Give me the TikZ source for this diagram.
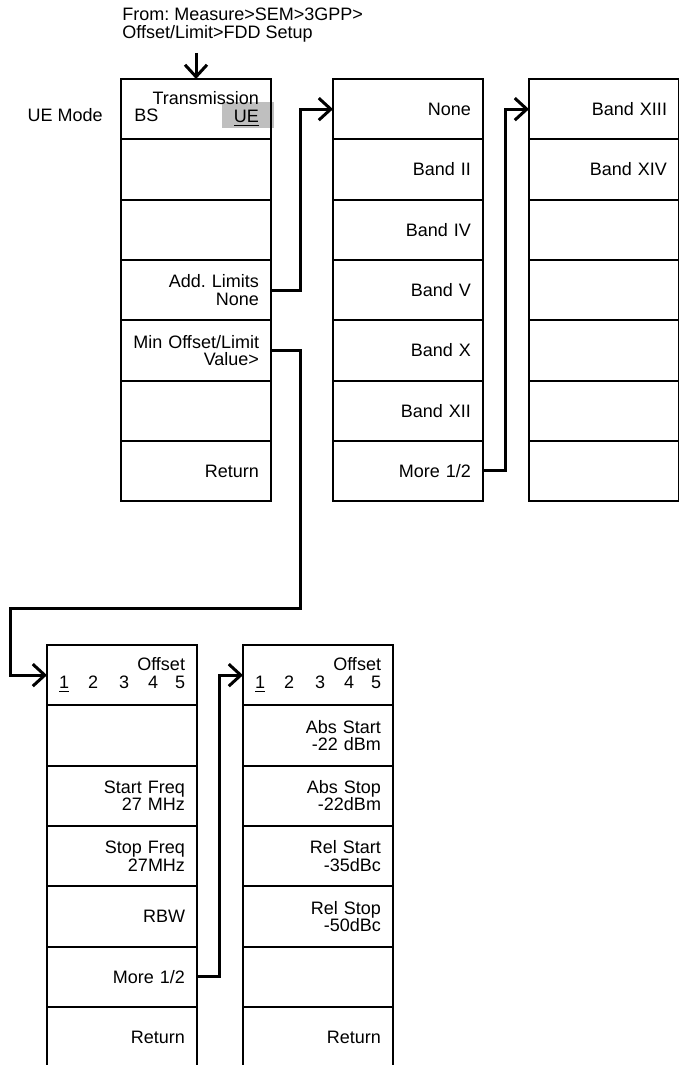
\documentclass[tikz,border=0pt]{standalone}
\usepackage{fontspec}
\setmainfont{Liberation Sans}
\usepackage{xcolor}
\usepackage{tikz}
\usetikzlibrary{arrows.meta, positioning, backgrounds}

\newcommand{\menufont}{\fontsize{9pt}{8.7pt}\selectfont\frenchspacing}
\newcommand{\offsetrow}{\mbox{\underline{1}\hspace{9.5pt}2\hspace{10.5pt}3\hspace{9.5pt}4\hspace{8.5pt}5}}

\begin{document}
\begin{tikzpicture}[
    x=0.5pt, y=-0.5pt,
    node distance=0pt,
    softkey/.style={rectangle, draw=black, line width=1pt, outer sep=0pt,
                    minimum height=30.15pt, text width=63pt, inner xsep=6pt,
                    inner ysep=0pt, align=right, font=\menufont},
    menutext/.style={inner sep=0pt, font=\menufont},
    hilite/.style={rectangle, fill=black!25, inner sep=0pt,
                   minimum width=26pt, minimum height=13pt},
    link/.style={-{Straight Barb[length=6pt, width=11pt]}, line width=1.5pt, draw=black}
]
\useasboundingbox (0,0) rectangle (679,1065);
\clip (0,0) rectangle (679,1065);

%% --- HEADER ---
\node[menutext, anchor=north west, align=left] (origin) at (122,8)
    {From: Measure>SEM>3GPP>\\Offset/Limit>FDD Setup};
\coordinate (entry) at (196,53);
\node[menutext, anchor=base east] (uemode) at (103,122) {UE Mode};

%% --- FDD SETUP MENU ---
\node[softkey, anchor=north west] (c1r1) at (121,79) {Transmission\\\underline{UE}};
\node[softkey, below=of c1r1] (c1r2) {};
\node[softkey, below=of c1r2] (c1r3) {};
\node[softkey, below=of c1r3] (c1r4) {Add. Limits\\None};
\node[softkey, below=of c1r4] (c1r5) {Min Offset/Limit\\Value>};
\node[softkey, below=of c1r5] (c1r6) {};
\node[softkey, below=of c1r6] (c1r7) {Return};
\node[menutext, anchor=base west] (bs) at (134,122) {BS};

%% --- ADD. LIMITS MENU ---
\node[softkey, anchor=north west] (c2r1) at (333,79) {None};
\node[softkey, below=of c2r1] (c2r2) {Band II};
\node[softkey, below=of c2r2] (c2r3) {Band IV};
\node[softkey, below=of c2r3] (c2r4) {Band V};
\node[softkey, below=of c2r4] (c2r5) {Band X};
\node[softkey, below=of c2r5] (c2r6) {Band XII};
\node[softkey, below=of c2r6] (c2r7) {More 1/2};

%% --- ADD. LIMITS PAGE 2 ---
\node[softkey, anchor=north west] (c3r1) at (529,79) {Band XIII};
\node[softkey, below=of c3r1] (c3r2) {Band XIV};
\node[softkey, below=of c3r2] (c3r3) {};
\node[softkey, below=of c3r3] (c3r4) {};
\node[softkey, below=of c3r4] (c3r5) {};
\node[softkey, below=of c3r5] (c3r6) {};
\node[softkey, below=of c3r6] (c3r7) {};

%% --- OFFSET/LIMIT MENU ---
\node[softkey, anchor=north west] (c4r1) at (47,645) {Offset\\\offsetrow};
\node[softkey, below=of c4r1] (c4r2) {};
\node[softkey, below=of c4r2] (c4r3) {Start Freq\\27 MHz};
\node[softkey, below=of c4r3] (c4r4) {Stop Freq\\27MHz};
\node[softkey, below=of c4r4] (c4r5) {RBW};
\node[softkey, below=of c4r5] (c4r6) {More 1/2};
\node[softkey, below=of c4r6] (c4r7) {Return};

%% --- OFFSET/LIMIT PAGE 2 ---
\node[softkey, anchor=north west] (c5r1) at (243,645) {Offset\\\offsetrow};
\node[softkey, below=of c5r1] (c5r2) {Abs Start\\-22 dBm};
\node[softkey, below=of c5r2] (c5r3) {Abs Stop\\-22dBm};
\node[softkey, below=of c5r3] (c5r4) {Rel Start\\-35dBc};
\node[softkey, below=of c5r4] (c5r5) {Rel Stop\\-50dBc};
\node[softkey, below=of c5r5] (c5r6) {};
\node[softkey, below=of c5r6] (c5r7) {Return};

%% --- ARROWS ---
\coordinate (bendA) at (300,608);
\coordinate (bendB) at (10,608);
\draw[link] (entry) -- (c1r1.north);
\draw[link] (c1r4.east) -- ++(29,0) |- (c2r1.west);
\draw[link] (c2r7.east) -- ++(22,0) |- (c3r1.west);
\draw[link] (c1r5.east) -| (bendA) -- (bendB) |- (c4r1.west);
\draw[link] (c4r6.east) -- ++(22,0) |- (c5r1.west);

%% --- SELECTED MODE ---
\begin{scope}[on background layer]
    \node[hilite] (uesel) at (248,115) {};
\end{scope}

\end{tikzpicture}
\end{document}
